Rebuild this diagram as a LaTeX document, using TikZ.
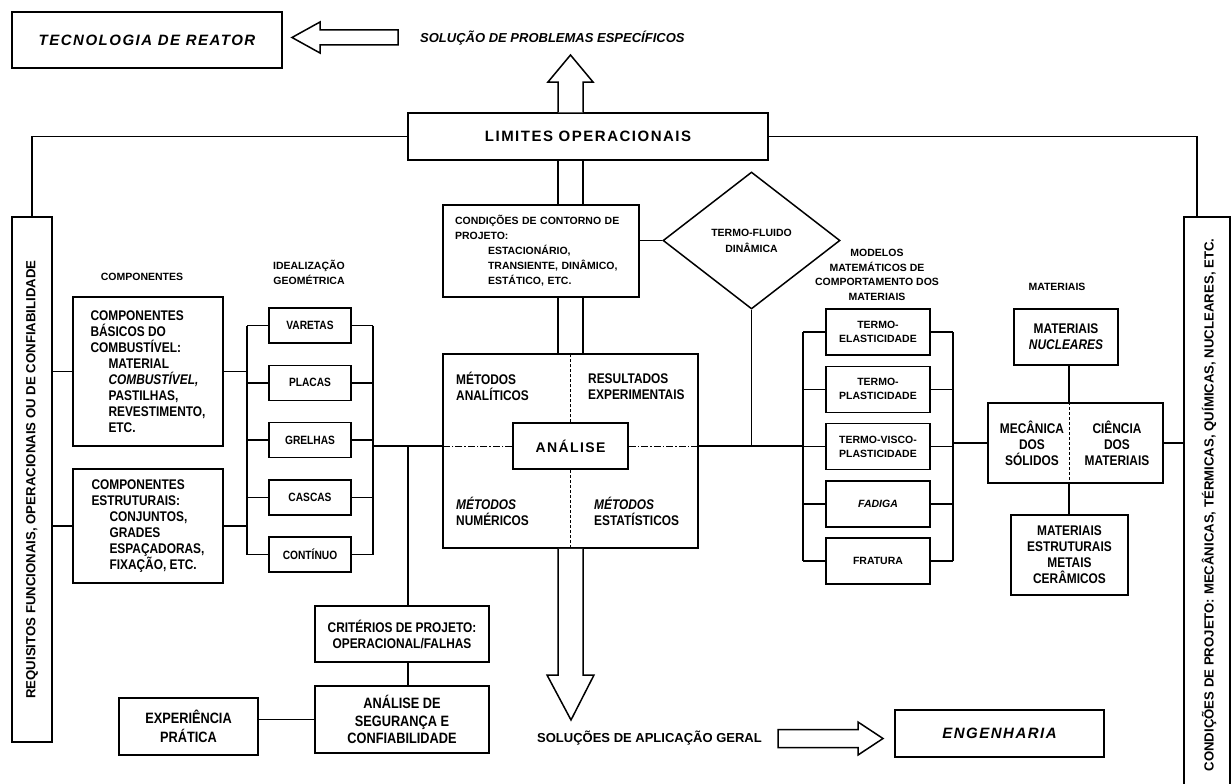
\documentclass[tikz,border=0pt]{standalone}
\usepackage{fontspec}
\setmainfont{Liberation Sans}
\newfontfamily\narrowfont[FakeStretch=0.85]{Liberation Sans}
\newfontfamily\spacedfont[LetterSpace=10]{Liberation Sans}
\usetikzlibrary{shapes.geometric}

\tikzset{
  box/.style={draw, line width=1.5pt, inner sep=0pt, align=center,
    font=\narrowfont\bfseries\fontsize{14}{16}\selectfont},
  idealbox/.style={box, minimum width=82pt, minimum height=35pt,
    font=\narrowfont\bfseries\fontsize{12}{14}\selectfont},
  modelbox/.style={box, minimum width=104pt, minimum height=46pt,
    font=\bfseries\fontsize{10.5}{14}\selectfont},
  bigbox/.style={box, font=\spacedfont\bfseries\fontsize{15}{18}\selectfont},
  heading/.style={inner sep=0pt, align=center, font=\bfseries\fontsize{10.5}{14.7}\selectfont},
  quad/.style={inner sep=0pt, align=left, font=\narrowfont\bfseries\fontsize{14}{16}\selectfont},
  sidetext/.style={rotate=90, inner sep=0pt, font=\bfseries\fontsize{13.2}{15}\selectfont},
  wire/.style={line width=1.5pt},
  hollow/.style={line width=1.5pt, fill=white},
  divider/.style={line width=0.9pt, dash pattern=on 3pt off 2pt},
  dashdot/.style={line width=0.9pt, dash pattern=on 7pt off 2pt on 1.5pt off 2pt}
}

\begin{document}
\begin{tikzpicture}[x=1pt, y=-1pt]
  \useasboundingbox (0,0) rectangle (1231,784);
  \fill[white] (0,0) rectangle (1231,784);
  \clip (0,0) rectangle (1231,784);

  % top row
  \node[bigbox, minimum width=270pt, minimum height=56pt,
    font=\spacedfont\bfseries\itshape\fontsize{15}{18}\selectfont] (reator) at (147,40) {TECNOLOGIA DE REATOR};
  \draw[hollow] (292,37.5) -- (320,22) -- (320,30) -- (398,30) -- (398,45) -- (320,45) -- (320,53) -- cycle;
  \node[anchor=west, inner sep=0pt, font=\bfseries\itshape\fontsize{13}{15}\selectfont] (especificos) at (420,38)
    {SOLUÇÃO DE PROBLEMAS ESPECÍFICOS};

  \node[bigbox, minimum width=360pt, minimum height=47pt] (limites) at (588,136.5) {LIMITES OPERACIONAIS};

  % side frames
  \node[box, minimum width=40pt, minimum height=525pt] (requisitos) at (32,479.5) {};
  \node[sidetext] at (requisitos.center) {REQUISITOS FUNCIONAIS, OPERACIONAIS OU DE CONFIABILIDADE};
  \node[box, minimum width=46pt, minimum height=583pt] (projeto) at (1207,508.5) {};
  \node[sidetext] at (1209,505) {CONDIÇÕES DE PROJETO: MECÂNICAS, TÉRMICAS, QUÍMICAS, NUCLEARES, ETC.};

  \draw[wire] (requisitos.north) |- (limites.west);
  \draw[wire] (limites.east) -| ([xshift=-10pt]projeto.north);

  % componentes
  \node[heading] (complabel) at (142,277) {COMPONENTES};
  \node[box, minimum width=150pt, minimum height=149pt, align=left] (basicos) at (148,371.5)
    {COMPONENTES\\BÁSICOS DO\\COMBUSTÍVEL:\\\hspace*{18pt}MATERIAL\\\hspace*{18pt}\textit{COMBUSTÍVEL,}\\\hspace*{18pt}PASTILHAS,\\\hspace*{18pt}REVESTIMENTO,\\\hspace*{18pt}ETC.};
  \node[box, minimum width=150pt, minimum height=114pt, align=left] (estruturais) at (148,526)
    {COMPONENTES\\ESTRUTURAIS:\\\hspace*{18pt}CONJUNTOS,\\\hspace*{18pt}GRADES\\\hspace*{18pt}ESPAÇADORAS,\\\hspace*{18pt}FIXAÇÃO, ETC.};
  \draw[wire] (requisitos.east |- basicos.west) -- (basicos.west);
  \draw[wire] (requisitos.east |- estruturais.west) -- (estruturais.west);

  % idealizacao geometrica
  \node[heading] (ideallabel) at (309,272.5) {IDEALIZAÇÃO\\GEOMÉTRICA};
  \foreach \nm/\txt [count=\k from 0] in {varetas/VARETAS, placas/PLACAS, grelhas/GRELHAS, cascas/CASCAS, continuo/CONTÍNUO}
    \node[idealbox] (\nm) at (310,325.5+57.25*\k) {\txt};
  \coordinate (ibusL) at (247,0);
  \coordinate (ibusR) at (373,0);
  \draw[wire] (ibusL |- varetas.west) -- (ibusL |- continuo.west);
  \draw[wire] (ibusR |- varetas.east) -- (ibusR |- continuo.east);
  \foreach \nm in {varetas,placas,grelhas,cascas,continuo}
    \draw[wire] (ibusL |- \nm.west) -- (\nm.west) (\nm.east) -- (ibusR |- \nm.east);
  \draw[wire] (basicos.east) -- (ibusL |- basicos.east);
  \draw[wire] (estruturais.east) -- (ibusL |- estruturais.east);

  % analise
  \node[box, minimum width=255pt, minimum height=194pt] (analise) at (570.5,451) {};
  \node[bigbox, minimum width=115pt, minimum height=46pt,
    font=\spacedfont\bfseries\fontsize{14}{16}\selectfont] (nucleo) at (570.5,446) {ANÁLISE};
  \draw[divider] (nucleo.north) -- (nucleo.north |- analise.north) (nucleo.south) -- (nucleo.south |- analise.south);
  \draw[dashdot] (nucleo.west) -- (nucleo.west -| analise.west) (nucleo.east) -- (nucleo.east -| analise.east);
  \node[quad, anchor=west] (analiticos) at (456,386.5) {MÉTODOS\\ANALÍTICOS};
  \node[quad, anchor=west] (experimentais) at (588,386.5) {RESULTADOS\\EXPERIMENTAIS};
  \node[quad, anchor=west] (numericos) at (456,511) {\textit{MÉTODOS}\\NUMÉRICOS};
  \node[quad, anchor=west] (estatisticos) at (594,511) {\textit{MÉTODOS}\\ESTATÍSTICOS};

  \node[box, minimum width=196pt, minimum height=92pt, text width=172pt, align=left,
    font=\bfseries\fontsize{10.5}{15}\selectfont] (contorno) at (541,251)
    {CONDIÇÕES DE CONTORNO DE\\PROJETO:\\\hspace*{33pt}ESTACIONÁRIO,\\\hspace*{33pt}TRANSIENTE, DINÂMICO,\\\hspace*{33pt}ESTÁTICO, ETC.};

  % big arrows through the centre
  \coordinate (shaftL) at (558,0);
  \coordinate (shaftR) at (583,0);
  \draw[hollow] (shaftL |- limites.north) -- (558,82) -- (548,82) -- (570.5,55) -- (593,82) -- (583,82) -- (shaftR |- limites.north);
  \draw[wire] (shaftL |- limites.south) -- (shaftL |- contorno.north) (shaftR |- limites.south) -- (shaftR |- contorno.north);
  \draw[wire] (shaftL |- contorno.south) -- (shaftL |- analise.north) (shaftR |- contorno.south) -- (shaftR |- analise.north);
  \draw[hollow] (shaftL |- analise.south) -- (558,675) -- (547,675) -- (571,720) -- (594,675) -- (583,675) -- (shaftR |- analise.south);

  \node[draw, diamond, line width=1.5pt, inner sep=0pt, minimum width=177pt, minimum height=137pt, align=center,
    font=\bfseries\fontsize{10.5}{16}\selectfont] (termofluido) at (751.5,240.5) {TERMO-FLUIDO\\DINÂMICA};
  \draw[wire] (contorno.east |- termofluido.west) -- (termofluido.west);
  \draw[wire] (termofluido.south) -- (termofluido.south |- nucleo.east);

  % criterios
  \coordinate (tap) at (408,446);
  \node[box, minimum width=174pt, minimum height=56pt] (criterios) at (402,634) {CRITÉRIOS DE PROJETO:\\OPERACIONAL/FALHAS};
  \node[box, minimum width=174pt, minimum height=67pt,
    font=\narrowfont\bfseries\fontsize{15}{17.5}\selectfont] (seguranca) at (402,719.5) {ANÁLISE DE\\SEGURANÇA E\\CONFIABILIDADE};
  \node[box, minimum width=139pt, minimum height=57pt,
    font=\narrowfont\bfseries\fontsize{15}{19}\selectfont] (pratica) at (188.5,726.5) {EXPERIÊNCIA\\PRÁTICA};
  \draw[wire] (ibusR |- nucleo.west) -- (nucleo.west -| analise.west);
  \draw[wire] (tap) -- (tap |- criterios.north) (tap |- criterios.south) -- (tap |- seguranca.north);
  \draw[wire] (seguranca.west) -- (seguranca.west -| pratica.east);

  % modelos matematicos
  \node[heading] (modlabel) at (877,275) {MODELOS\\MATEMÁTICOS DE\\COMPORTAMENTO DOS\\MATERIAIS};
  \foreach \nm/\txt [count=\k from 0] in {elast/TERMO-\\ELASTICIDADE, plast/TERMO-\\PLASTICIDADE,
      visco/TERMO-VISCO-\\PLASTICIDADE, fadiga/\textit{FADIGA}, fratura/FRATURA}
    \node[modelbox] (\nm) at (878,332+57.25*\k) {\txt};
  \coordinate (mbusL) at (803,0);
  \coordinate (mbusR) at (953,0);
  \draw[wire] (mbusL |- elast.west) -- (mbusL |- fratura.west);
  \draw[wire] (mbusR |- elast.east) -- (mbusR |- fratura.east);
  \foreach \nm in {elast,plast,visco,fadiga,fratura}
    \draw[wire] (mbusL |- \nm.west) -- (\nm.west) (\nm.east) -- (mbusR |- \nm.east);
  \draw[wire] (nucleo.east -| analise.east) -- (mbusL |- nucleo.east);

  % materiais
  \node[heading] (matlabel) at (1057,287) {MATERIAIS};
  \node[box, minimum width=104pt, minimum height=56pt] (nucleares) at (1066,337) {MATERIAIS\\\textit{NUCLEARES}};
  \node[box, minimum width=175pt, minimum height=80pt] (mecanica) at (1075.5,443) {};
  \coordinate (split) at (1069,0);
  \draw[divider] (split |- mecanica.north) -- (split |- mecanica.south);
  \node[quad, align=center] (solidos) at (1032,443) {MECÂNICA\\DOS\\SÓLIDOS};
  \node[quad, align=center] (ciencia) at (1117,443) {CIÊNCIA\\DOS\\MATERIAIS};
  \node[box, minimum width=117pt, minimum height=80pt] (metais) at (1069.5,555) {MATERIAIS\\ESTRUTURAIS\\METAIS\\CERÂMICOS};
  \draw[wire] (split |- nucleares.south) -- (split |- mecanica.north);
  \draw[wire] (split |- mecanica.south) -- (split |- metais.north);
  \draw[wire] (mbusR |- mecanica.west) -- (mecanica.west);
  \draw[wire] (mecanica.east) -- (mecanica.east -| projeto.west);

  % bottom row
  \node[anchor=west, inner sep=0pt, font=\bfseries\fontsize{13}{15}\selectfont] (geral) at (537,738) {SOLUÇÕES DE APLICAÇÃO GERAL};
  \draw[hollow] (778,729.5) -- (858,729.5) -- (858,722) -- (883,738.5) -- (858,755) -- (858,747.5) -- (778,747.5) -- cycle;
  \node[bigbox, minimum width=209pt, minimum height=47pt,
    font=\spacedfont\bfseries\itshape\fontsize{15}{18}\selectfont] (engenharia) at (999.5,733.5) {ENGENHARIA};
\end{tikzpicture}
\end{document}
